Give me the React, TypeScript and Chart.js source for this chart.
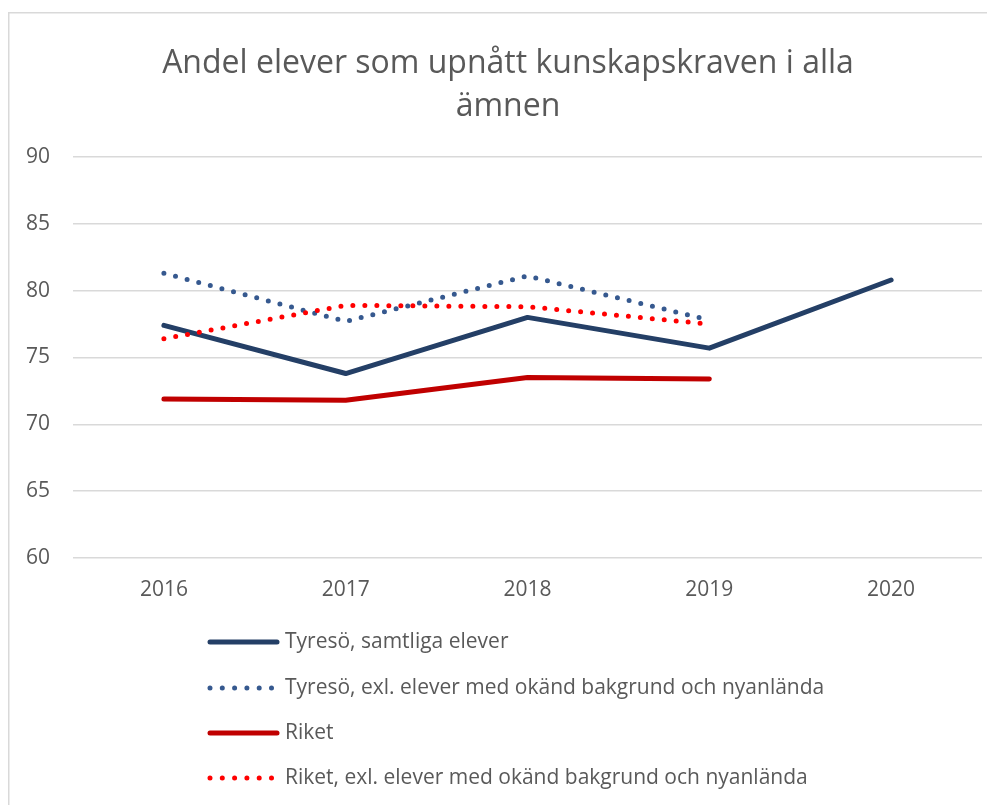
import React, { useEffect, useRef } from "react";
import { Chart, registerables } from "chart.js";

Chart.register(...registerables);

const categories = ["2016", "2017", "2018", "2019", "2020"];
const tyresoAll = [77.4, 73.8, 78.0, 75.7, 80.8];
const tyresoExcl = [81.3, 77.7, 81.1, 77.8, null];
const riket = [71.9, 71.8, 73.5, 73.4, null];
const riketExcl = [76.4, 78.9, 78.8, 77.5, null];
const seriesLabels = [
  "Tyresö, samtliga elever",
  "Tyresö, exl. elever med okänd bakgrund och nyanlända",
  "Riket",
  "Riket, exl. elever med okänd bakgrund och nyanlända",
];
const titleLines = ["Andel elever som upnått kunskapskraven i alla", "ämnen"];

const FONT = "'Open Sans', sans-serif";
const TEXT = "#595959";
const W = 987;
const H = 797;

const framePlugin = {
  id: "frame",
  beforeDraw(chart: any) {
    const ctx = chart.ctx;
    ctx.save();
    ctx.fillStyle = "#ffffff";
    ctx.fillRect(0, 0, chart.width, chart.height);
    ctx.strokeStyle = "#d9d9d9";
    ctx.lineWidth = 1.5;
    ctx.strokeRect(0.75, 4.75, chart.width + 50, chart.height + 50);
    ctx.restore();
  },
  afterDraw(chart: any) {
    const ctx = chart.ctx;
    ctx.save();
    // title
    ctx.fillStyle = TEXT;
    ctx.font = `32px ${FONT}`;
    ctx.textAlign = "center";
    ctx.textBaseline = "middle";
    titleLines.forEach((t, i) => ctx.fillText(t, 500, 56 + i * 43));
    // legend
    const rowY = [634, 680, 725, 770];
    chart.data.datasets.forEach((ds: any, i: number) => {
      const y = rowY[i];
      ctx.save();
      ctx.strokeStyle = ds.borderColor;
      ctx.lineWidth = 5;
      ctx.lineCap = "round";
      if (ds.borderDash && ds.borderDash.length) {
        ctx.setLineDash([0, 12.3]);
        ctx.beginPath();
        ctx.moveTo(202, y);
        ctx.lineTo(266, y);
        ctx.stroke();
      } else {
        ctx.beginPath();
        ctx.moveTo(202, y);
        ctx.lineTo(269, y);
        ctx.stroke();
      }
      ctx.restore();
      ctx.fillStyle = TEXT;
      ctx.font = `21px ${FONT}`;
      ctx.textAlign = "left";
      ctx.textBaseline = "middle";
      ctx.fillText(ds.label, 277, y);
    });
    ctx.restore();
  },
};

export default function App() {
  const ref = useRef<HTMLCanvasElement | null>(null);
  useEffect(() => {
    if (!ref.current) return;
    const common = {
      fill: false,
      tension: 0,
      pointRadius: 0,
      pointHoverRadius: 0,
      borderWidth: 5,
      borderCapStyle: "round" as const,
      borderJoinStyle: "round" as const,
    };
    const chart = new Chart(ref.current, {
      type: "line",
      data: {
        labels: categories,
        datasets: [
          { ...common, label: seriesLabels[0], data: tyresoAll, borderColor: "#243f66", order: 4 },
          { ...common, label: seriesLabels[1], data: tyresoExcl, borderColor: "#36598f", borderDash: [0, 12], order: 3 },
          { ...common, label: seriesLabels[2], data: riket, borderColor: "#c00000", order: 2 },
          { ...common, label: seriesLabels[3], data: riketExcl, borderColor: "#ff0000", borderDash: [0, 12], order: 1 },
        ],
      },
      options: {
        animation: false,
        responsive: false,
        maintainAspectRatio: false,
        layout: { padding: { top: 149, right: 13, bottom: 197, left: 0 } },
        plugins: {
          legend: { display: false },
          title: { display: false },
          tooltip: { enabled: false },
        },
        scales: {
          x: {
            offset: true,
            grid: { display: false, drawTicks: false },
            border: { display: false },
            ticks: { color: TEXT, font: { family: FONT, size: 21 }, padding: 19 },
            afterFit: (s: any) => { s.height = 50; },
          },
          y: {
            min: 60,
            max: 90,
            ticks: { stepSize: 5, color: TEXT, font: { family: FONT, size: 21 }, padding: 23 },
            grid: { color: "#d9d9d9", lineWidth: 1.5, drawTicks: false },
            border: { display: false },
            afterFit: (s: any) => { s.width = 65; },
          },
        },
      },
      plugins: [framePlugin],
    });
    return () => chart.destroy();
  }, []);
  return (
    <div style={{ width: W, height: H }}>
      <canvas ref={ref} width={W} height={H} style={{ width: W, height: H, display: "block" }} />
    </div>
  );
}
